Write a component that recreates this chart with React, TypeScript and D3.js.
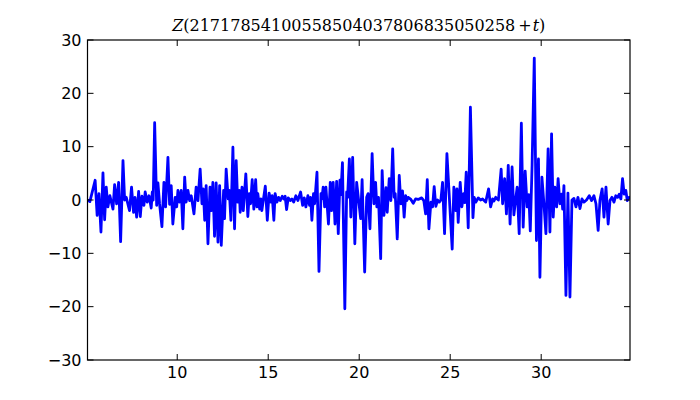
import React, { useRef, useEffect } from 'react';
import * as d3 from 'd3';

// t values of the curve's turning points
const tValues = [
  5.07, 5.20, 5.49, 5.60, 5.70, 5.81, 5.92, 6.01, 6.10, 6.19,
  6.30, 6.47, 6.56, 6.67, 6.78, 6.89, 7.02, 7.11, 7.20, 7.38,
  7.49, 7.60, 7.68, 7.77, 7.88, 7.97, 8.06, 8.17, 8.24, 8.35,
  8.45, 8.57, 8.63, 8.68, 8.76, 8.87, 8.94, 9.03, 9.16, 9.27,
  9.36, 9.49, 9.58, 9.67, 9.76, 9.89, 9.97, 10.04, 10.13, 10.22,
  10.31, 10.41, 10.49, 10.59, 10.68, 10.77, 10.92, 11.04, 11.14, 11.26,
  11.36, 11.43, 11.51, 11.59, 11.69, 11.80, 11.87, 11.96, 12.05, 12.14,
  12.24, 12.33, 12.42, 12.55, 12.60, 12.69, 12.80, 12.86, 12.95, 13.06,
  13.15, 13.24, 13.32, 13.41, 13.46, 13.56, 13.63, 13.77, 13.88, 13.96,
  14.03, 14.12, 14.21, 14.31, 14.38, 14.43, 14.53, 14.60, 14.65, 14.84,
  14.95, 15.05, 15.15, 15.22, 15.31, 15.38, 15.48, 15.57, 15.66, 15.77,
  15.86, 15.93, 16.01, 16.10, 16.21, 16.30, 16.40, 16.52, 16.63, 16.78,
  16.89, 16.98, 17.07, 17.18, 17.27, 17.33, 17.40, 17.49, 17.55, 17.68,
  17.79, 17.90, 17.95, 18.02, 18.10, 18.17, 18.31, 18.41, 18.48, 18.57,
  18.67, 18.76, 18.85, 18.94, 18.99, 19.08, 19.21, 19.31, 19.36, 19.46,
  19.54, 19.64, 19.76, 19.86, 20.08, 20.16, 20.30, 20.41, 20.49, 20.59,
  20.71, 20.81, 20.90, 20.97, 21.06, 21.18, 21.26, 21.36, 21.47, 21.54,
  21.65, 21.74, 21.84, 21.92, 21.98, 22.09, 22.20, 22.29, 22.38, 22.47,
  22.55, 22.62, 22.69, 22.84, 22.97, 23.10, 23.24, 23.43, 23.55, 23.65,
  23.74, 23.83, 23.94, 24.03, 24.12, 24.21, 24.31, 24.40, 24.49, 24.58,
  24.69, 24.82, 25.11, 25.20, 25.31, 25.37, 25.44, 25.55, 25.64, 25.74,
  25.80, 25.88, 25.99, 26.11, 26.25, 26.32, 26.41, 26.54, 26.67, 26.78,
  26.95, 27.11, 27.22, 27.33, 27.40, 27.50, 27.58, 27.65, 27.80, 27.88,
  27.99, 28.09, 28.19, 28.29, 28.40, 28.50, 28.61, 28.68, 28.79, 28.91,
  29.01, 29.12, 29.23, 29.32, 29.40, 29.50, 29.62, 29.74, 29.85, 29.93,
  30.04, 30.15, 30.26, 30.38, 30.48, 30.57, 30.66, 30.75, 30.85, 30.93,
  31.03, 31.12, 31.18, 31.25, 31.36, 31.47, 31.58, 31.69, 31.80, 31.91,
  32.02, 32.13, 32.24, 32.35, 32.49, 32.64, 32.77, 32.90, 33.01, 33.13,
  33.23, 33.35, 33.45, 33.56, 33.68, 33.78, 33.89, 34.00, 34.10, 34.20,
  34.29, 34.38, 34.47, 34.56, 34.65, 34.73, 34.84, 34.88,
];

// Z(t) at those points
const zValues = [
  0, -0.3, 3.7, -2.9, 1.2, -6.0, 5.1, -3.7, 2.4, -1.3,
  0.8, -1.7, 2.9, -0.7, 3.3, -7.8, 7.4, 0, 0.5, -2.0,
  2.4, -2.3, 0.5, -3.2, 1.6, -3.1, 0.7, -1.0, 1.5, -0.4,
  0.8, -1.5, 1.5, 0, 14.5, -1.0, 3.2, -0.7, -5.0, 3.3,
  -1.3, 8.0, -0.8, 2.7, -4.5, 0.5, -1.3, 1.8, -0.4, 1.8,
  -5.4, 4.3, -0.4, 1.8, -0.1, 0.8, -2.6, 2.4, -0.1, 5.8,
  -0.7, 2.1, -3.8, 2.7, -8.2, 2.4, -2.0, 3.3, -6.8, 3.2,
  -7.9, 2.7, -8.5, 1.8, -3.5, 5.8, 0.2, 1.8, -3.8, 9.9,
  -5.4, 7.4, -0.4, 1.8, -2.3, 2.4, -2.0, 4.9, -3.1, 1.2,
  -0.7, 3.8, -1.7, 3.8, -1.3, 1.2, -1.7, 0.2, -2.0, 2.6,
  -3.8, 1.3, -0.4, 0.8, -3.8, 1.2, -0.4, 0.5, -0.1, 0.7,
  0.2, 0.7, -1.8, 0.4, -0.1, 0.2, -0.4, 0.8, -0.1, 1.5,
  -1.0, 0.4, -1.3, 0.8, -1.0, 0.5, -3.8, 1.2, -0.7, 5.2,
  -13.4, 1.2, 0.2, 2.4, -1.3, 2.4, -4.5, 3.3, -2.0, 3.3,
  -4.5, 3.5, -6.3, 3.7, 1.0, 7.0, -20.4, 1.5, 0.5, 7.7,
  -3.2, 8.0, -8.2, 3.3, -3.5, 3.8, -13.5, 0.5, 1.2, -5.4,
  8.7, -0.7, 3.3, -1.3, 0.5, -11.0, 5.5, -2.9, 2.3, -2.3,
  4.0, -0.1, 9.6, 0.5, 1.2, -7.3, 4.6, -0.7, 1.7, -3.2,
  0.8, -0.1, 0.5, 0.1, -0.6, 0.2, 0.1, 0.4, -0.1, -2.6,
  3.8, -5.4, -0.4, -1.3, 2.5, -1.2, 0.0, -0.4, 0.0, 3.3,
  -6.3, 8.7, -9.2, 2.4, -2.0, 2.1, -4.2, 3.3, -1.3, 1.2,
  -0.5, 5.2, -5.2, 17.4, -3.3, 0.5, -0.4, 0.4, 0.0, 0.2,
  -0.4, 2.1, -1.3, 0.2, -0.2, 0.5, 0.2, 0.0, 5.8, -0.7,
  4.0, -2.6, 6.5, -4.5, 6.2, -2.8, 0.5, 2.4, -6.3, 14.4,
  -5.1, 5.4, -1.3, 1.0, -5.8, 6.5, 26.6, -7.6, 7.7, -14.5,
  4.3, -0.7, -6.3, 9.6, -6.0, 12.4, -3.2, 2.4, -1.3, 4.0,
  -0.7, 1.1, -1.7, 2.7, -17.9, 1.3, -18.2, 0.0, 0.3, -1.3,
  0.5, -1.6, 0.2, -0.4, 0.0, 0.8, -0.1, 0.8, -0.7, -5.7,
  0.0, 2.1, -3.2, 2.4, -4.5, -0.1, 0.5, -0.4, 0.8, 0.5,
  1.1, 0.2, 4.0, 1.1, 1.8, -0.1, 0.5, 0.3,
];

const xTicks = [10, 15, 20, 25, 30];
const yTicks = [-30, -20, -10, 0, 10, 20, 30];
const xDomain = [5.07, 34.88];
const yDomain = [-30, 30];
const titleNumber = '21717854100558504037806835050258';

const App = () => {
  const chartRef = useRef(null);

  useEffect(() => {
    drawChart();
  }, []);

  const drawChart = () => {
    const container = d3.select(chartRef.current);
    container.selectAll('*').remove();

    const W = 700;
    const H = 400;
    const margin = { top: 40, right: 70, bottom: 40, left: 87.5 };
    const width = W - margin.left - margin.right;
    const height = H - margin.top - margin.bottom;

    const svg = container
      .append('svg')
      .attr('width', W)
      .attr('height', H)
      .style('position', 'absolute')
      .style('left', 0)
      .style('top', 0)
      .style('background', '#fff');

    const g = svg.append('g').attr('transform', `translate(${margin.left},${margin.top})`);

    const x = d3.scaleLinear().domain(xDomain).range([0, width]);
    const y = d3.scaleLinear().domain(yDomain).range([height, 0]);

    const n = Math.min(tValues.length, zValues.length);
    const data = d3.range(n).map(i => ({ t: tValues[i], z: zValues[i] }));

    g.append('clipPath').attr('id', 'plotclip')
      .append('rect').attr('width', width).attr('height', height);

    const line = d3.line()
      .x(d => x(d.t))
      .y(d => y(d.z));

    g.append('path')
      .datum(data)
      .attr('clip-path', 'url(#plotclip)')
      .attr('d', line)
      .attr('fill', 'none')
      .attr('stroke', '#0000ff')
      .attr('stroke-width', 2.8)
      .attr('stroke-linejoin', 'round');

    // frame
    g.append('rect')
      .attr('width', width)
      .attr('height', height)
      .attr('fill', 'none')
      .attr('stroke', '#000')
      .attr('stroke-width', 1.2);

    const fmt = v => (v < 0 ? '\u2212' + Math.abs(v) : String(v));
    const tickLen = 6;

    // x ticks, bottom and top, pointing inward
    xTicks.forEach(v => {
      const px = x(v);
      g.append('line').attr('x1', px).attr('x2', px).attr('y1', height).attr('y2', height - tickLen)
        .attr('stroke', '#000').attr('stroke-width', 1);
      g.append('line').attr('x1', px).attr('x2', px).attr('y1', 0).attr('y2', tickLen)
        .attr('stroke', '#000').attr('stroke-width', 1);
      g.append('text')
        .attr('x', px)
        .attr('y', height + 18)
        .attr('text-anchor', 'middle')
        .style('font-family', 'DejaVu Sans')
        .style('font-size', '16px')
        .text(fmt(v));
    });

    // y ticks, left and right
    yTicks.forEach(v => {
      const py = y(v);
      g.append('line').attr('x1', 0).attr('x2', tickLen).attr('y1', py).attr('y2', py)
        .attr('stroke', '#000').attr('stroke-width', 1);
      g.append('line').attr('x1', width).attr('x2', width - tickLen).attr('y1', py).attr('y2', py)
        .attr('stroke', '#000').attr('stroke-width', 1);
      g.append('text')
        .attr('x', -6)
        .attr('y', py)
        .attr('dy', '0.36em')
        .attr('text-anchor', 'end')
        .style('font-family', 'DejaVu Sans')
        .style('font-size', '16px')
        .text(fmt(v));
    });

    // title: Z(number + t)
    const title = g.append('text')
      .attr('x', width / 2)
      .attr('y', -9)
      .attr('text-anchor', 'middle')
      .style('font-family', 'DejaVu Serif')
      .style('font-size', '16px');
    title.append('tspan').style('font-style', 'italic').text('Z');
    title.append('tspan').text('(' + titleNumber);
    title.append('tspan').attr('dx', 3).text('+');
    title.append('tspan').attr('dx', 1).style('font-style', 'italic').text('t');
    title.append('tspan').text(')');
  };

  return <div className="chart-container" ref={chartRef}></div>;
};

export default App;
